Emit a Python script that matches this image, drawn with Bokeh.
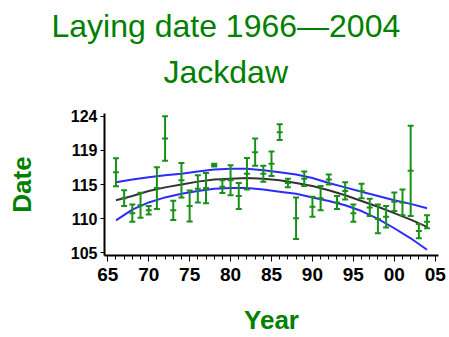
from bokeh.plotting import figure
from bokeh.models import Range1d, FixedTicker, Title, ColumnDataSource
from bokeh.embed import file_html
from bokeh.resources import INLINE

# ---- data ----
years = list(range(1966, 2005))
means = [116.2, 112.6, 110.5, 111.6, 110.9, 114.0, 120.9, 110.9, 115.1, 111.5,
         113.9, 114.0, 117.2, 114.2, 115.1, 112.9, 116.0, 119.0, 116.0, 117.4,
         121.8, 114.7, 109.8, 115.3, 111.4, 112.6, 115.2, 112.0, 113.6, 110.5,
         113.6, 111.3, 109.7, 110.0, 112.1, 112.0, 116.4, 108.0, 109.3]
errs = [1.95, 1.1, 1.2, 1.75, 0.6, 2.9, 3.1, 1.35, 2.4, 2.15,
        1.9, 2.1, 0.2, 0.9, 2.1, 1.8, 2.2, 1.9, 1.1, 1.7,
        1.1, 0.6, 2.9, 1.0, 1.4, 1.7, 0.7, 0.9, 1.2, 1.2,
        1.0, 1.2, 2.0, 1.5, 1.3, 1.8, 6.3, 1.0, 0.9]

fit_years = [1966, 1968, 1970, 1972, 1974, 1976, 1978, 1980, 1982, 1984,
             1986, 1988, 1990, 1992, 1994, 1996, 1998, 2000, 2002, 2004]
fit_mean = [112.3, 112.9, 113.6, 114.1, 114.5, 114.9, 115.2, 115.3, 115.4, 115.3,
            115.1, 114.7, 114.3, 113.7, 113.0, 112.2, 111.4, 110.5, 109.6, 108.6]
fit_upper = [114.8, 115.2, 115.5, 115.8, 116.0, 116.3, 116.6, 116.7, 116.7, 116.5,
             116.2, 115.9, 115.4, 114.7, 114.1, 113.5, 112.9, 112.3, 111.8, 111.2]
fit_lower = [109.5, 111.0, 112.0, 112.7, 113.2, 113.6, 113.9, 114.0, 114.0, 113.8,
             113.5, 113.2, 112.7, 112.2, 111.6, 110.8, 109.7, 108.4, 107.0, 105.4]

x_ticks = [1965, 1970, 1975, 1980, 1985, 1990, 1995, 2000, 2005]
x_labels = ["65", "70", "75", "80", "85", "90", "95", "00", "05"]
x_minor = list(range(1965, 2006))
y_ticks = [105, 109.75, 114.5, 119.25, 124]
y_labels = ["105", "110", "115", "119", "124"]

title1 = "Laying date 1966\u20142004"
title2 = "Jackdaw"
x_title = "Year"
y_title = "Date"

GREEN = "#008000"
BAR = "#1a8f1a"
BLUE = "#2b2bff"
DARK = "#333333"
FONT = "Liberation Sans"

lo = [m - e for m, e in zip(means, errs)]
hi = [m + e for m, e in zip(means, errs)]
src = ColumnDataSource(dict(x=years, m=means, lo=lo, hi=hi))

p = figure(width=449, height=337, output_backend="svg", toolbar_location=None,
           x_range=Range1d(1964.6, 2005.4), y_range=Range1d(104.6, 124.4),
           min_border_left=104, min_border_right=11, min_border_top=113,
           min_border_bottom=80)
p.outline_line_color = None
p.grid.visible = False
p.background_fill_color = "white"
p.border_fill_color = "white"

# fitted curve and confidence band
p.line(fit_years, fit_upper, line_color=BLUE, line_width=2)
p.line(fit_years, fit_lower, line_color=BLUE, line_width=2)
p.line(fit_years, fit_mean, line_color=DARK, line_width=2)

# yearly means with error bars
p.segment(x0="x", y0="lo", x1="x", y1="hi", source=src, line_color=BAR, line_width=2)
p.scatter("x", "lo", source=src, marker="dash", size=6, line_color=BAR, line_width=2)
p.scatter("x", "hi", source=src, marker="dash", size=6, line_color=BAR, line_width=2)
p.scatter("x", "m", source=src, marker="dash", size=6, line_color=BAR, line_width=2)

# axes
xa = p.xaxis[0]
xa.ticker = FixedTicker(ticks=x_ticks, minor_ticks=x_minor)
xa.major_label_overrides = {t: l for t, l in zip(x_ticks, x_labels)}
xa.axis_line_width = 2
xa.major_tick_in = 0
xa.major_tick_out = 6
xa.minor_tick_in = 0
xa.minor_tick_out = 4
xa.major_tick_line_width = 1
xa.minor_tick_line_width = 1
xa.major_label_text_font = FONT
xa.major_label_text_font_style = "bold"
xa.major_label_text_font_size = "19px"
xa.major_label_text_color = "black"
xa.major_label_standoff = 6
xa.axis_label = x_title
xa.axis_label_text_font = FONT
xa.axis_label_text_font_style = "bold"
xa.axis_label_text_font_size = "26px"
xa.axis_label_text_color = GREEN
xa.axis_label_standoff = 21

ya = p.yaxis[0]
ya.ticker = FixedTicker(ticks=y_ticks, minor_ticks=[])
ya.major_label_overrides = {t: l for t, l in zip(y_ticks, y_labels)}
ya.axis_line_width = 2
ya.major_tick_in = 0
ya.major_tick_out = 4
ya.minor_tick_out = 0
ya.major_label_text_font = FONT
ya.major_label_text_font_style = "bold"
ya.major_label_text_font_size = "16px"
ya.major_label_text_color = "black"
ya.major_label_standoff = 3
ya.axis_label = y_title
ya.axis_label_text_font = FONT
ya.axis_label_text_font_style = "bold"
ya.axis_label_text_font_size = "26px"
ya.axis_label_text_color = GREEN
ya.axis_label_standoff = 31

# titles: the one added first sits closest to the frame
p.add_layout(Title(text=title2, align="left", offset=59, standoff=48,
                   text_font=FONT, text_font_style="normal",
                   text_font_size="32px", text_color=GREEN), "above")
p.add_layout(Title(text=title1, align="left", offset=-53, standoff=-33,
                   text_font=FONT, text_font_style="normal",
                   text_font_size="32px", text_color=GREEN), "above")

open("out.html", "w").write(file_html(p, INLINE))
